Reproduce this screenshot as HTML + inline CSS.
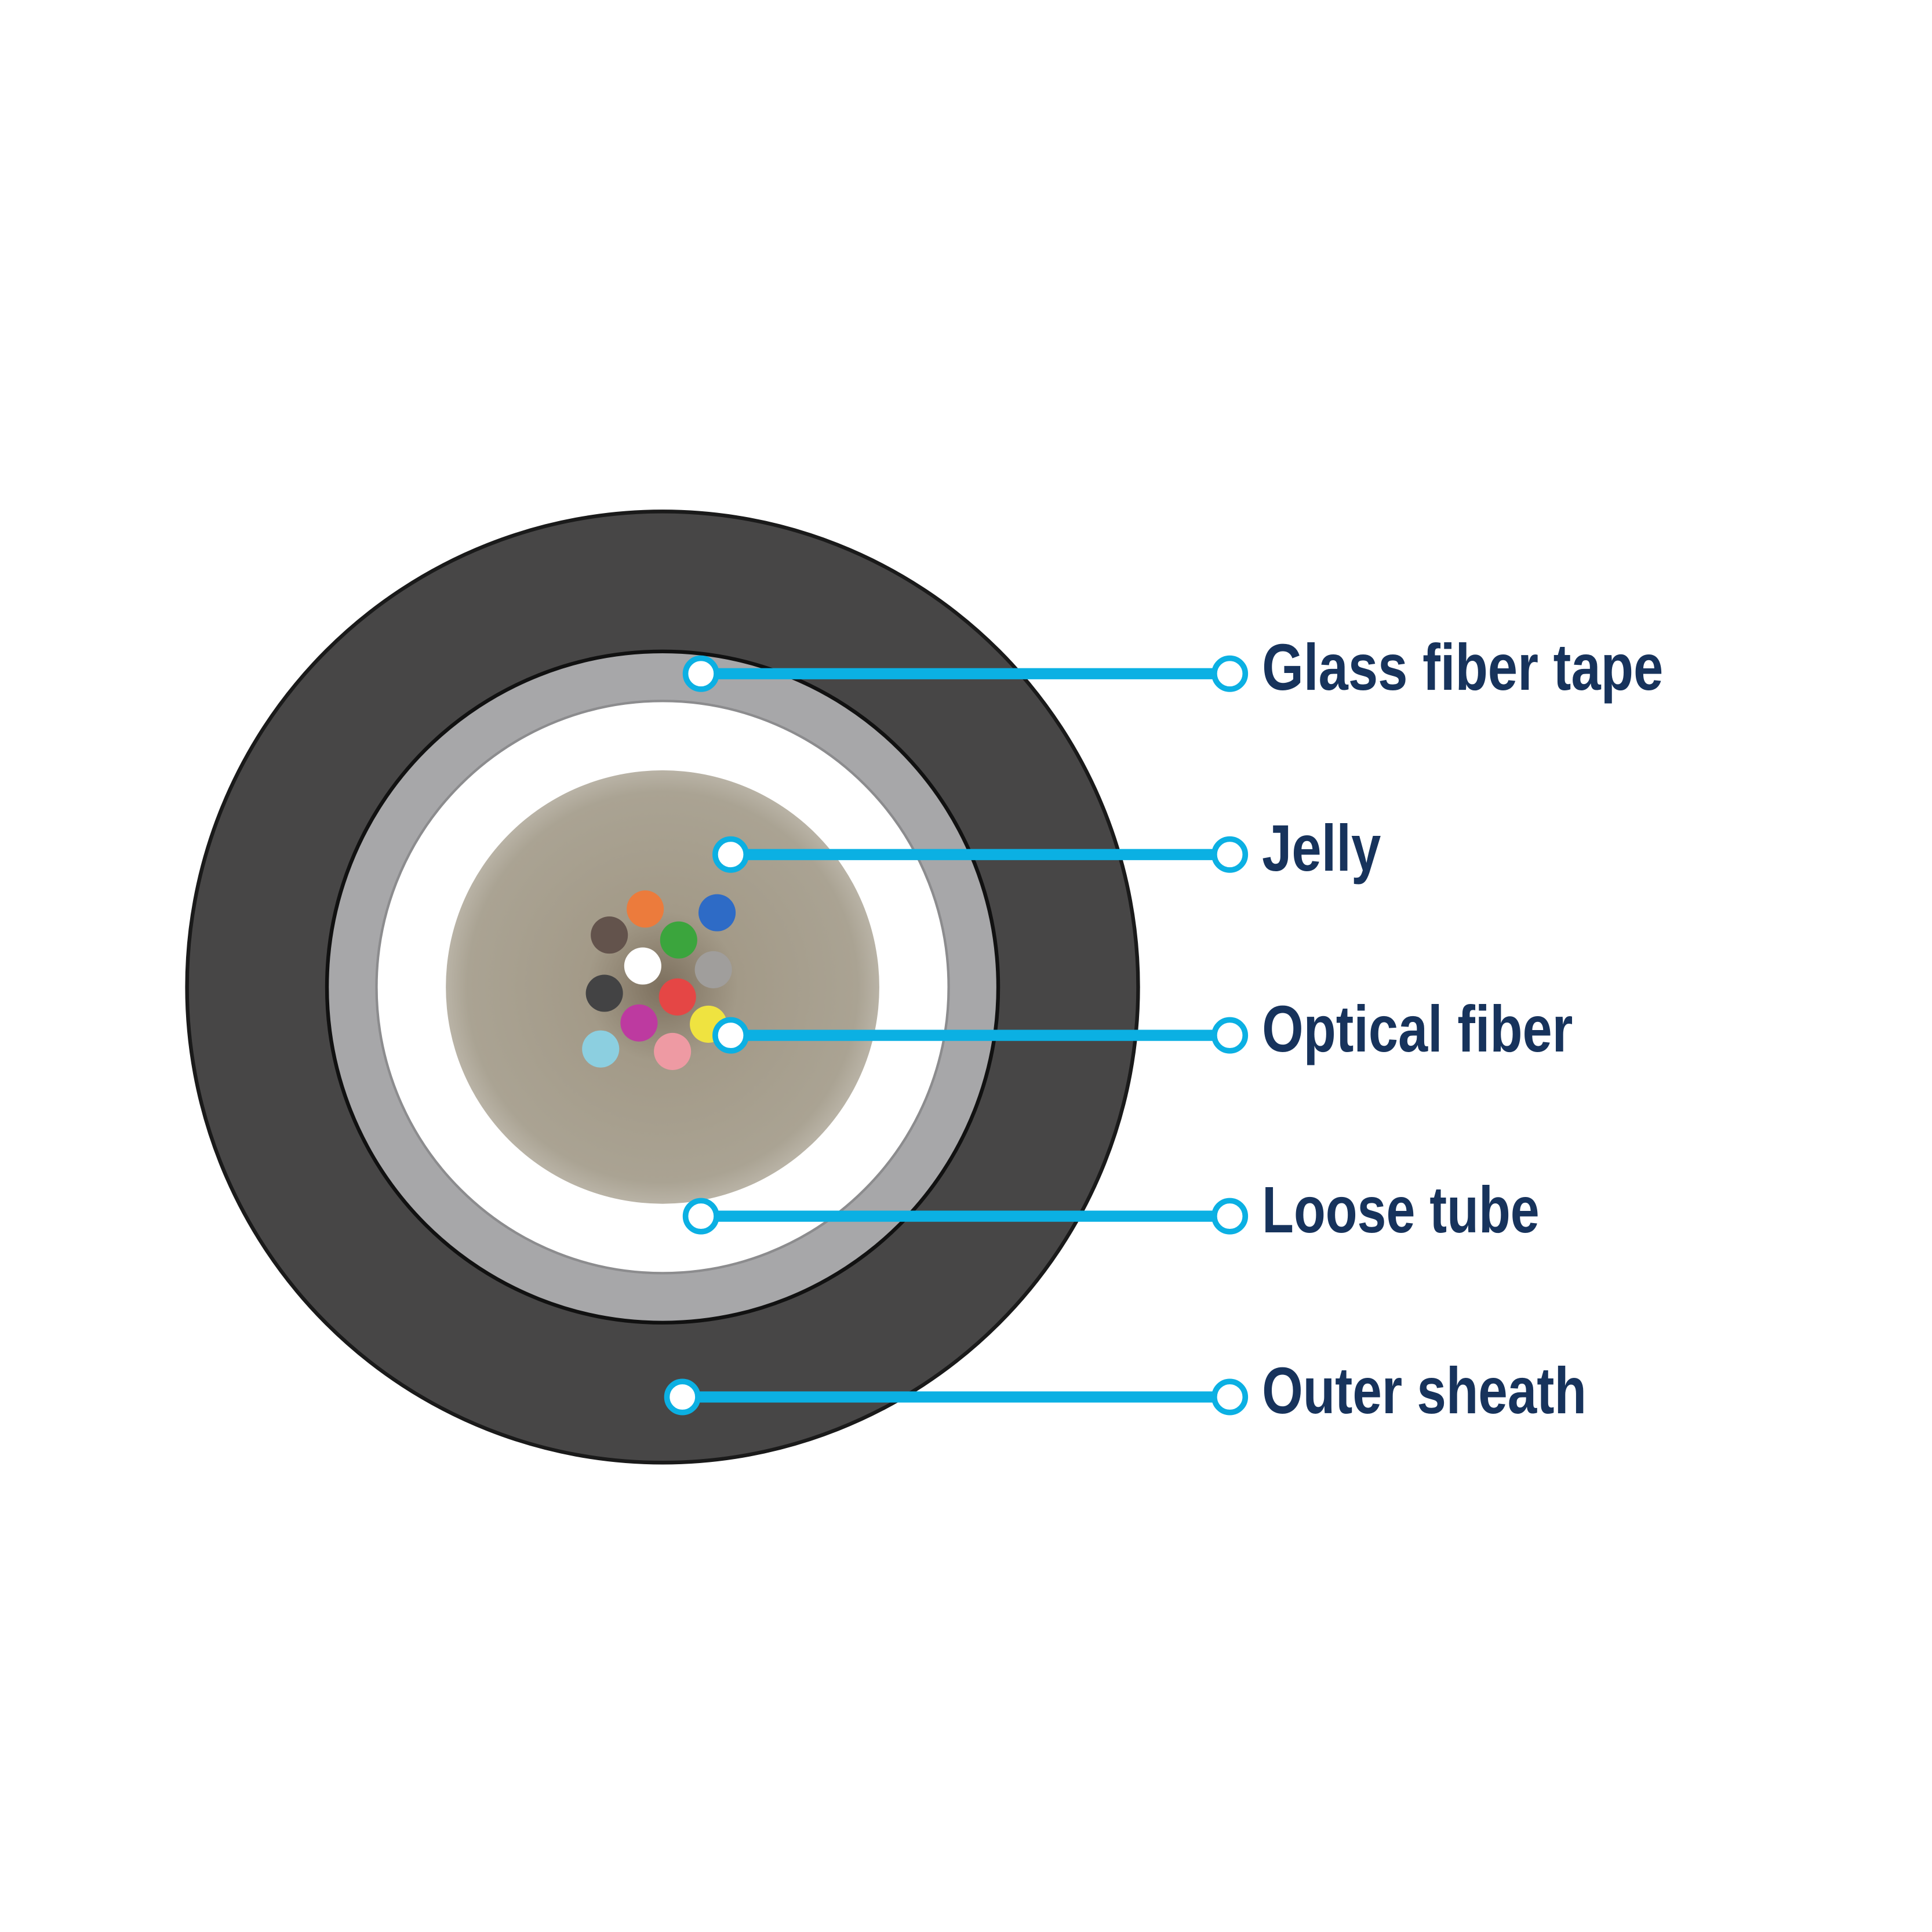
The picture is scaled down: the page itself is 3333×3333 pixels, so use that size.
<!DOCTYPE html>
<html><head><meta charset="utf-8"><style>
html,body{margin:0;padding:0;background:#fff}
svg{display:block}
</style></head><body>
<svg width="3333" height="3333" viewBox="0 0 1560 1560" xmlns="http://www.w3.org/2000/svg">
<defs>
<radialGradient id="jel" cx="0.5" cy="0.5" r="0.5">
<stop offset="0" stop-color="#7d705e"/>
<stop offset="0.35" stop-color="#a39a88"/>
<stop offset="0.9" stop-color="#aaa393"/>
<stop offset="1" stop-color="#b9b3a6"/>
</radialGradient>
</defs>
<rect width="1560" height="1560" fill="#fff"/>
<circle cx="535" cy="797" r="384" fill="#474646" stroke="#1a1a1a" stroke-width="3"/>
<circle cx="535" cy="797" r="271" fill="#a7a7a9" stroke="#111" stroke-width="3"/>
<circle cx="535" cy="797" r="231" fill="#fff" stroke="#8c8c8e" stroke-width="2"/>
<circle cx="535" cy="797" r="175" fill="url(#jel)"/>
<g>
<circle cx="521" cy="734" r="15" fill="#ec7b3c"/>
<circle cx="579" cy="737" r="15" fill="#2e6bc6"/>
<circle cx="492" cy="755" r="15" fill="#63534c"/>
<circle cx="548" cy="759" r="15" fill="#3ba53d"/>
<circle cx="519" cy="780" r="15" fill="#ffffff"/>
<circle cx="576" cy="783" r="15" fill="#a09e9c"/>
<circle cx="488" cy="802" r="15" fill="#434344"/>
<circle cx="547" cy="805" r="15" fill="#e54645"/>
<circle cx="516" cy="826" r="15" fill="#bd3aa0"/>
<circle cx="572" cy="827" r="15" fill="#efe340"/>
<circle cx="485" cy="847" r="15" fill="#8ccfe0"/>
<circle cx="543" cy="849" r="15" fill="#ee9aa3"/>
</g>
<g stroke="#0bb0e3" stroke-width="9">
<line x1="566" y1="544" x2="995" y2="544"/>
<line x1="590" y1="690" x2="995" y2="690"/>
<line x1="590" y1="836" x2="995" y2="836"/>
<line x1="566" y1="982" x2="995" y2="982"/>
<line x1="551" y1="1128" x2="995" y2="1128"/>
</g>
<g fill="#fff" stroke="#0bb0e3" stroke-width="4.5">
<circle cx="566" cy="544" r="12.5"/>
<circle cx="590" cy="690" r="12.5"/>
<circle cx="590" cy="836" r="12.5"/>
<circle cx="566" cy="982" r="12.5"/>
<circle cx="551" cy="1128" r="12.5"/>
<circle cx="993" cy="544" r="12.5"/>
<circle cx="993" cy="690" r="12.5"/>
<circle cx="993" cy="836" r="12.5"/>
<circle cx="993" cy="982" r="12.5"/>
<circle cx="993" cy="1128" r="12.5"/>
</g>
<g font-family="'Liberation Sans', sans-serif" font-weight="bold" font-size="53" fill="#17335c">
<text x="1019" y="557" textLength="324" lengthAdjust="spacingAndGlyphs">Glass fiber tape</text>
<text x="1019" y="703" textLength="96" lengthAdjust="spacingAndGlyphs">Jelly</text>
<text x="1019" y="849" textLength="251" lengthAdjust="spacingAndGlyphs">Optical fiber</text>
<text x="1019" y="995" textLength="224" lengthAdjust="spacingAndGlyphs">Loose tube</text>
<text x="1019" y="1141" textLength="262" lengthAdjust="spacingAndGlyphs">Outer sheath</text>
</g>
</svg>
</body></html>
